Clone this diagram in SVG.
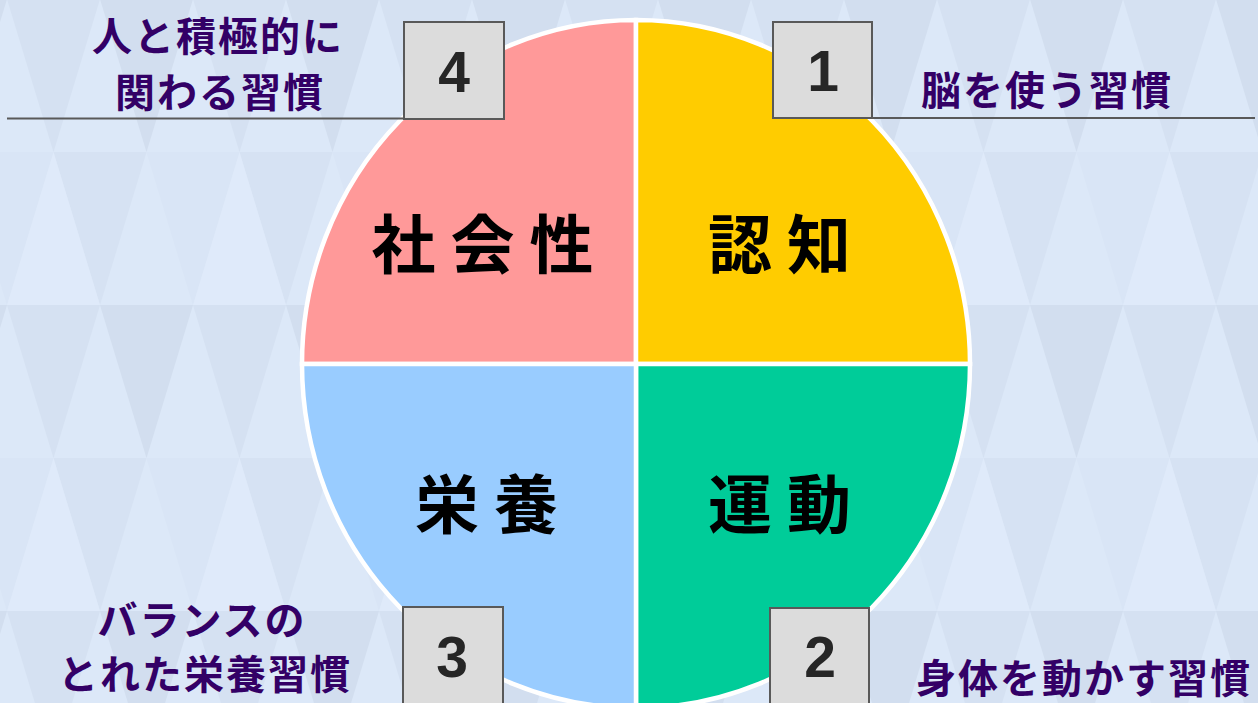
<svg xmlns="http://www.w3.org/2000/svg" width="1258" height="703" viewBox="0 0 1258 703">
<style>
.q{stroke:#ffffff;stroke-width:4.5;stroke-linejoin:miter}
.big{font-family:"Noto Sans CJK JP","Noto Sans",sans-serif;font-weight:700;font-size:64px;fill:#000000;letter-spacing:15px;text-anchor:middle}
.lbl{font-family:"Noto Sans CJK JP","Noto Sans",sans-serif;font-weight:700;font-size:40px;fill:#330066;letter-spacing:2px;text-anchor:middle}
.box{fill:#dcdcdc;stroke:#595959;stroke-width:2}
.num{font-family:"Liberation Sans",Arial,sans-serif;font-weight:700;font-size:57px;fill:#262626;text-anchor:middle}
.rule{stroke:#595959;stroke-width:2;fill:none}
</style>
<defs>
<pattern id="tri" x="7" y="-1" width="186" height="306" patternUnits="userSpaceOnUse">
<rect width="186" height="306" fill="#dce8f8"/>
<polygon points="0,0 93,0 46.5,153" fill="#d5e1f2"/>
<polygon points="93,0 186,0 139.5,153" fill="#d2deef"/>
<polygon points="-46.5,153 46.5,153 0,306" fill="#d9e5f6"/>
<polygon points="46.5,153 139.5,153 93,306" fill="#d6e2f3"/>
<polygon points="139.5,153 232.5,153 186,306" fill="#d9e5f6"/>
<polygon points="0,306 93,306 46.5,153" fill="#dfeafa"/>
</pattern>
</defs>
<rect width="1258" height="703" fill="url(#tri)"/>

<g id="quadrants">
<g id="q-social"><path class="q" fill="#ff9999" d="M636,364 L302,364 A334,344 0 0 1 636,20 Z"/><text class="big" x="490" y="268">社会性</text></g>
<g id="q-cognition"><path class="q" fill="#ffcc00" d="M636,364 L636,20 A334,344 0 0 1 970,364 Z"/><text class="big" x="787" y="268">認知</text></g>
<g id="q-exercise"><path class="q" fill="#00cc99" d="M636,364 L970,364 A334,344 0 0 1 636,708 Z"/><text class="big" x="787" y="528">運動</text></g>
<g id="q-nutrition"><path class="q" fill="#99ccff" d="M636,364 L636,708 A334,344 0 0 1 302,364 Z"/><text class="big" x="494" y="528">栄養</text></g>
</g>

<g id="connectors">
<line class="rule" x1="7" y1="118.5" x2="404" y2="118.5"/>
<line class="rule" x1="872" y1="118" x2="1255" y2="118"/>
</g>

<g id="box-4"><rect class="box" x="404" y="22" width="100" height="97"/><text class="num" x="454" y="92">4</text></g>
<g id="box-1"><rect class="box" x="773" y="22" width="99" height="96"/><text class="num" x="823" y="91">1</text></g>
<g id="box-3"><rect class="box" x="403" y="607" width="100" height="100"/><text class="num" x="452" y="677">3</text></g>
<g id="box-2"><rect class="box" x="770" y="608" width="99" height="100"/><text class="num" x="820" y="677">2</text></g>

<g id="label-4"><text class="lbl" x="218" y="51">人と積極的に</text><text class="lbl" x="220" y="107">関わる習慣</text></g>
<g id="label-1"><text class="lbl" x="1047" y="105">脳を使う習慣</text></g>
<g id="label-3"><text class="lbl" x="202" y="635">バランスの</text><text class="lbl" x="205" y="689">とれた栄養習慣</text></g>
<g id="label-2"><text class="lbl" x="1084" y="693">身体を動かす習慣</text></g>
</svg>
